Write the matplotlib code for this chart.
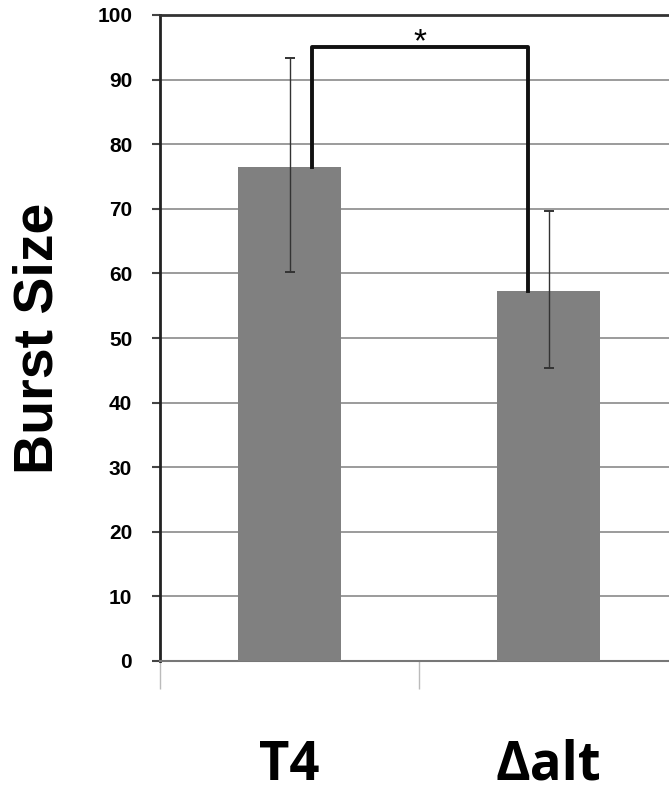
import matplotlib
matplotlib.use("Agg")
import matplotlib.pyplot as plt
import numpy as np

categories = ["T4", "\u0394alt"]
values = [76.5, 57.3]
err_upper = [93.3, 69.7]
err_lower = [60.2, 45.3]
yticks = [0, 10, 20, 30, 40, 50, 60, 70, 80, 90, 100]
ylabel = "Burst Size"
sig_label = "*"

fig = plt.figure(figsize=(6.69, 7.92), dpi=100)
ax = fig.add_axes([160/669, 1-661/792, 518/669, 646/792])

x = np.arange(len(categories)) + 0.5
vals = np.array(values)
yerr = np.array([vals - np.array(err_lower), np.array(err_upper) - vals])
ax.bar(x, vals, width=0.40, color="#808080", zorder=3)
ax.errorbar(x, vals, yerr=yerr, fmt="none", ecolor="#333333", elinewidth=1.0,
            capsize=3.6, capthick=1.4, zorder=4)

ax.set_xlim(0, 2)
ax.set_ylim(0, 100)
ax.set_yticks(yticks)
ax.set_yticklabels([str(t) for t in yticks], fontsize=15, fontweight="bold",
                   family="Liberation Sans")
ax.yaxis.grid(True, color="#8a8a8a", linewidth=1.2, zorder=0)
ax.tick_params(axis="y", length=6, width=1.5, color="#444444", pad=14)
ax.set_xticks([0, 1, 2])
ax.set_xticklabels([])
ax.tick_params(axis="x", length=20, width=1.0, color="#bbbbbb")

ax.spines["right"].set_visible(False)
ax.spines["left"].set_linewidth(2.0)
ax.spines["left"].set_color("#222222")
ax.spines["bottom"].set_linewidth(1.5)
ax.spines["bottom"].set_color("#777777")
ax.spines["top"].set_linewidth(2.0)
ax.spines["top"].set_color("#333333")

for xi, lab in zip(x, categories):
    ax.text(xi, -(780 - 661) / 6.46, lab, ha="center", va="baseline", fontsize=38,
            fontweight="bold", family=["Open Sans", "DejaVu Sans"])

fig.text(39/669, 1-338/792, ylabel, rotation=90, ha="center", va="center",
         fontsize=40, fontweight="bold", family="Liberation Sans")

# significance bracket
bx1 = x[0] + 0.085
bx2 = x[1] - 0.081
btop = 95.1
ax.plot([bx1, bx1, bx2, bx2], [values[0], btop, btop, values[1]],
        color="#111111", linewidth=2.8, zorder=5, solid_joinstyle="round")
ax.text((bx1 + bx2)/2, 94.4, sig_label, ha="center", va="baseline",
        fontsize=24, family="Liberation Sans")

fig.savefig("out.png", dpi=100)
